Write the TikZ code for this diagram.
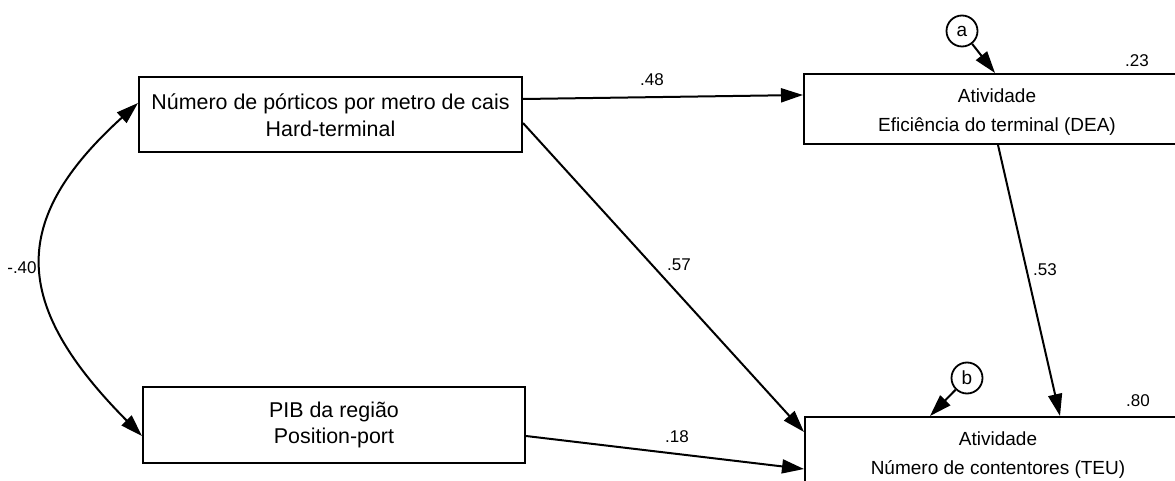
\documentclass[tikz,border=0pt]{standalone}
\usepackage{fontspec}
\setmainfont{Liberation Sans}
\usetikzlibrary{arrows.meta,calc}
\newcommand{\toppad}{\rule{0pt}{20pt}}
\begin{document}
\begin{tikzpicture}[x=1pt,y=-1pt,
  varbox/.style={draw,line width=2pt,rectangle,inner sep=0pt,align=center},
  leftbox/.style={varbox,minimum width=383pt,minimum height=75pt,
     font=\fontsize{21.4}{26.5}\selectfont},
  rightbox/.style={varbox,minimum width=386pt,minimum height=70pt,
     font=\fontsize{19}{29}\selectfont},
  errvar/.style={draw,circle,line width=1.8pt,minimum size=31pt,inner sep=0pt,
     font=\fontsize{19}{20}\selectfont},
  coef/.style={inner sep=0pt,font=\fontsize{17}{18}\selectfont},
  path/.style={line width=2pt,-{Triangle[length=22pt,width=14pt]}},
  cov/.style={line width=2pt,{Triangle[length=22pt,width=14pt]}-{Triangle[length=22pt,width=14pt]}}
]
\useasboundingbox (0,0) rectangle (1175,481);
\clip (0,0) rectangle (1175,481);

% observed variables
\node[leftbox]  (hard) at (330.5,115) {Número de pórticos por metro de cais\\Hard-terminal};
\node[leftbox,minimum width=382pt,minimum height=76pt] (pib) at (334,425) {PIB da região\\Position-port};
\node[rightbox] (dea) at (997,109) {\toppad Atividade\\Eficiência do terminal (DEA)};
\node[rightbox] (teu) at (998,452) {\toppad Atividade\\Número de contentores (TEU)};

% error terms
\node[errvar] (ea) at (962,31) {a};
\node[errvar] (eb) at (967,378) {b};

% regression paths
\draw[path] ($(hard.east)+(0,-16)$) -- ($(dea.west)+(0,-14)$);
\draw[path] ($(hard.east)+(0,8)$) -- ($(teu.north west)+(0,16)$);
\draw[path] ($(pib.east)+(0,11)$) -- ($(teu.west)+(0,17)$);
\draw[path] ($(dea.south)+(1,0)$) -- ($(teu.north)+(62,0)$);
\draw[path] (ea) -- ($(dea.north)+(-2,0)$);
\draw[path] (eb) -- ($(teu.north)+(-68,0)$);

% covariance between the exogenous variables
\draw[cov] ($(hard.west)+(0,-12)$) .. controls (9,220) and (11,304) .. ($(pib.west)+(0,11)$);

% coefficients
\node[coef] (c48) at (652,80) {.48};
\node[coef] (c57) at (679,265) {.57};
\node[coef] (c53) at (1045,270) {.53};
\node[coef] (c18) at (677,437) {.18};
\node[coef] (c23) at (1137,61) {.23};
\node[coef] (c80) at (1138,401) {.80};
\node[coef] (c40) at (22,268) {-.40};
\end{tikzpicture}
\end{document}
